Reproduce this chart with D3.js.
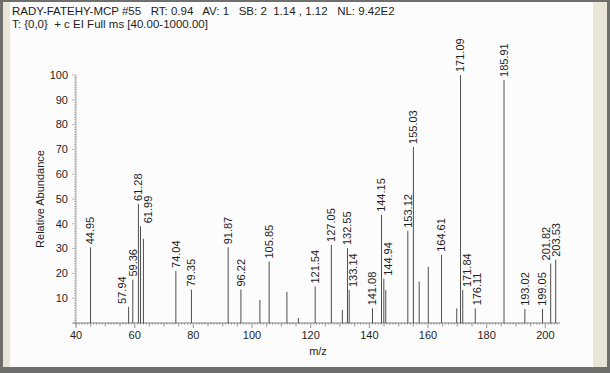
<!DOCTYPE html>
<html>
<head>
<meta charset="utf-8">
<script src="https://cdn.jsdelivr.net/npm/d3@7"></script>
<style>
  body { margin: 0; background: #fff; }
  text { font-family: "Liberation Sans", Arial, sans-serif; fill: #1e1e1e; }
</style>
</head>
<body>
<div id="spectrum"></div>
<script>
// peak list (m/z, relative abundance %)
var mz = [44.95, 57.94, 59.36, 61.28, 61.99, 62.99, 74.04, 79.35, 91.87, 96.22,
  102.7, 105.85, 111.9, 115.8, 121.54, 127.05, 130.8, 132.55, 133.14, 141.08,
  144.15, 144.94, 145.6, 153.12, 155.03, 157.0, 160.1, 164.61, 169.8, 171.09,
  171.84, 176.11, 185.91, 193.02, 199.05, 201.82, 203.53];
var abundance = [30.5, 6.5, 17.5, 48, 39, 34, 21, 13.5, 30.5, 13.5,
  9.3, 24.8, 12.6, 2, 14.7, 31.5, 5.3, 30.2, 13.3, 5.9,
  43.6, 17.8, 13.3, 37.2, 71, 16.7, 22.7, 27.5, 5.9, 100,
  13.3, 5.9, 98, 5.7, 5.7, 24, 25.5];
// peaks that carry a m/z label
var labeled = ["44.95", "57.94", "59.36", "61.28", "61.99", "74.04", "79.35", "91.87",
  "96.22", "105.85", "121.54", "127.05", "132.55", "133.14", "141.08", "144.15",
  "144.94", "153.12", "155.03", "164.61", "171.09", "171.84", "176.11", "185.91",
  "193.02", "199.05", "201.82", "203.53"];

var xTicks = [40, 60, 80, 100, 120, 140, 160, 180, 200];
var yTicks = [10, 20, 30, 40, 50, 60, 70, 80, 90, 100];
var header = ["RADY-FATEHY-MCP #55   RT: 0.94   AV: 1   SB: 2  1.14 , 1.12   NL: 9.42E2",
  "T: {0,0}  + c EI Full ms [40.00-1000.00]"];

var peaks = mz.map(function(m, i) {
  return {mz: m, value: abundance[i], label: m.toFixed(2)};
});

var width = 610, height = 373;

var svg = d3.select("#spectrum")
  .append("svg")
    .attr("width", width)
    .attr("height", height);

// scanned page frame
svg.append("rect").attr("width", width).attr("height", height).attr("fill", "#6f6f6d");
svg.append("rect").attr("x", 3).attr("y", 2).attr("width", 604).attr("height", 365).attr("fill", "#e9e5d6");
svg.append("rect").attr("x", 10).attr("y", 2).attr("width", 583).attr("height", 365).attr("fill", "#fcfcfd");

var x = d3.scaleLinear().domain([40, 205]).range([76, 560]);
var y = d3.scaleLinear().domain([0, 100]).range([323, 75]);

// header lines
svg.selectAll("text.header")
  .data(header)
  .enter()
  .append("text")
    .attr("class", "header")
    .attr("x", 12)
    .attr("y", (d, i) => 15 + i * 13)
    .style("white-space", "pre")
    .attr("font-size", "11.5px")
    .text(d => d);

// x axis: line, ticks every 1 / 5 / 20
var xAxis = svg.append("g");
xAxis.append("line")
  .attr("x1", x(40) - 3).attr("x2", x(205))
  .attr("y1", y(0)).attr("y2", y(0))
  .attr("stroke", "#666").attr("stroke-width", 0.8);
xAxis.selectAll("line.minor")
  .data(d3.range(40, 205, 1))
  .enter()
  .append("line")
    .attr("x1", d => x(d)).attr("x2", d => x(d))
    .attr("y1", y(0))
    .attr("y2", d => y(0) + (d % 20 == 0 ? 5 : d % 5 == 0 ? 3.5 : 1.5))
    .attr("stroke", "#777").attr("stroke-width", 0.8);
xAxis.selectAll("text")
  .data(xTicks)
  .enter()
  .append("text")
    .attr("x", d => x(d))
    .attr("y", 339)
    .attr("text-anchor", "middle")
    .attr("font-size", "11px")
    .text(d => d);
svg.append("text")
  .attr("x", (x(40) + x(205)) / 2)
  .attr("y", 355)
  .attr("text-anchor", "middle")
  .attr("font-size", "11px")
  .text("m/z");

// y axis
var yAxis = svg.append("g");
yAxis.append("line")
  .attr("x1", x(40)).attr("x2", x(40))
  .attr("y1", y(100)).attr("y2", y(0) + 3)
  .attr("stroke", "#777").attr("stroke-width", 0.6);
yAxis.selectAll("line.minor")
  .data(d3.range(0, 101, 1))
  .enter()
  .append("line")
    .attr("x1", d => x(40) - (d % 10 == 0 ? 4 : 2)).attr("x2", x(40))
    .attr("y1", d => y(d)).attr("y2", d => y(d))
    .attr("stroke", "#888").attr("stroke-width", 0.6);
yAxis.selectAll("text")
  .data(yTicks)
  .enter()
  .append("text")
    .attr("x", x(40) - 8)
    .attr("y", d => y(d))
    .attr("dy", "0.35em")
    .attr("text-anchor", "end")
    .attr("font-size", "11px")
    .text(d => d);
svg.append("text")
  .attr("transform", "translate(44," + (y(0) + y(100)) / 2 + ") rotate(-90)")
  .attr("text-anchor", "middle")
  .attr("font-size", "11px")
  .text("Relative Abundance");

// stick spectrum
svg.selectAll("line.peak")
  .data(peaks)
  .enter()
  .append("line")
    .attr("class", "peak")
    .attr("x1", d => x(d.mz)).attr("x2", d => x(d.mz))
    .attr("y1", y(0)).attr("y2", d => y(d.value))
    .attr("stroke", "#3a3a3a").attr("stroke-width", 0.9);

// peak labels: tallest first, nudged sideways until they clear lines and other labels
var labelPeaks = peaks.filter(d => labeled.indexOf(d.label) >= 0)
  .sort((a, b) => b.value - a.value);
var labels = svg.append("g");
var placed = [];
var half = 4.5;
labelPeaks.forEach(function(p) {
  var t = labels.append("text")
    .attr("font-size", "11px")
    .attr("dy", "0.35em")
    .text(p.label);
  var len = t.node().getComputedTextLength();
  var bottom = y(p.value) - 3, top = bottom - len;
  var cx0 = x(p.mz), best = cx0;
  for (var k = 0; k <= 40; k++) {
    var cx = cx0 + (k % 2 ? -1 : 1) * Math.ceil(k / 2);
    var hit = peaks.some(function(q) {
      if (q === p) return false;
      var qx = x(q.mz);
      return qx > cx - half - 1 && qx < cx + half + 1 && y(q.value) < bottom;
    }) || placed.some(function(r) {
      return cx - half < r.x1 + 1 && cx + half > r.x0 - 1 && top < r.y1 + 1 && bottom > r.y0 - 1;
    });
    if (!hit) { best = cx; break; }
  }
  placed.push({x0: best - half, x1: best + half, y0: top, y1: bottom});
  t.attr("transform", "translate(" + best + "," + bottom + ") rotate(-90)");
});
</script>
</body>
</html>
